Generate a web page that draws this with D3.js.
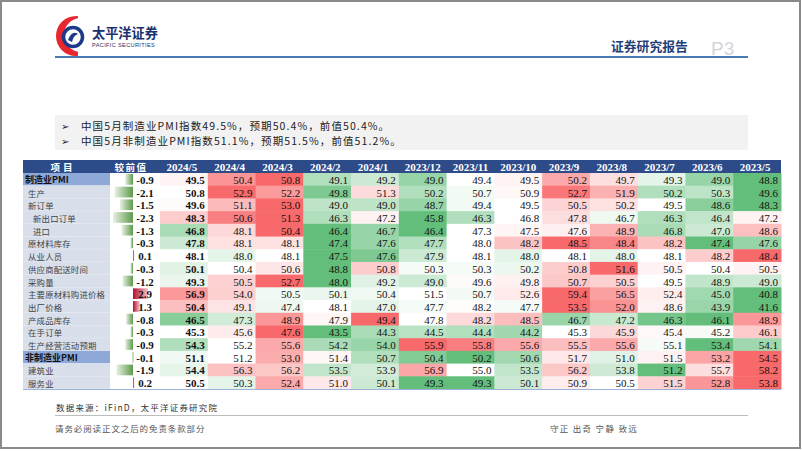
<!DOCTYPE html>
<html><head><meta charset="utf-8">
<script src="https://cdn.jsdelivr.net/npm/d3@7"></script>
<style>
html,body{margin:0;padding:0;background:#fff;}
svg{display:block;}
</style></head>
<body>
<svg id="c" width="802" height="451"></svg>
<script>
const months = ["2024/5","2024/4","2024/3","2024/2","2024/1","2023/12","2023/11","2023/10","2023/9","2023/8","2023/7","2023/6","2023/5"];
const items = ["制造业PMI","生产","新订单","新出口订单","进口","原材料库存","从业人员","供应商配送时间","采购量","主要原材料购进价格","出厂价格","产成品库存","在手订单","生产经营活动预期","非制造业PMI","建筑业","服务业"];
const levels = [0,1,1,2,2,1,1,1,1,1,1,1,1,1,0,1,1];
const diffs = [-0.9,-2.1,-1.5,-2.3,-1.3,-0.3,0.1,-0.3,-1.2,2.9,1.3,-0.8,-0.3,-0.9,-0.1,-1.9,0.2];
const values = [
 [49.5,50.4,50.8,49.1,49.2,49.0,49.4,49.5,50.2,49.7,49.3,49.0,48.8],
 [50.8,52.9,52.2,49.8,51.3,50.2,50.7,50.9,52.7,51.9,50.2,50.3,49.6],
 [49.6,51.1,53.0,49.0,49.0,48.7,49.4,49.5,50.5,50.2,49.5,48.6,48.3],
 [48.3,50.6,51.3,46.3,47.2,45.8,46.3,46.8,47.8,46.7,46.3,46.4,47.2],
 [46.8,48.1,50.4,46.4,46.7,46.4,47.3,47.5,47.6,48.9,46.8,47.0,48.6],
 [47.8,48.1,48.1,47.4,47.6,47.7,48.0,48.2,48.5,48.4,48.2,47.4,47.6],
 [48.1,48.0,48.1,47.5,47.6,47.9,48.1,48.0,48.1,48.0,48.1,48.2,48.4],
 [50.1,50.4,50.6,48.8,50.8,50.3,50.3,50.2,50.8,51.6,50.5,50.4,50.5],
 [49.3,50.5,52.7,48.0,49.2,49.0,49.6,49.8,50.7,50.5,49.5,48.9,49.0],
 [56.9,54.0,50.5,50.1,50.4,51.5,50.7,52.6,59.4,56.5,52.4,45.0,40.8],
 [50.4,49.1,47.4,48.1,47.0,47.7,48.2,47.7,53.5,52.0,48.6,43.9,41.6],
 [46.5,47.3,48.9,47.9,49.4,47.8,48.2,48.5,46.7,47.2,46.3,46.1,48.9],
 [45.3,45.6,47.6,43.5,44.3,44.5,44.4,44.2,45.3,45.9,45.4,45.2,46.1],
 [54.3,55.2,55.6,54.2,54.0,55.9,55.8,55.6,55.5,55.6,55.1,53.4,54.1],
 [51.1,51.2,53.0,51.4,50.7,50.4,50.2,50.6,51.7,51.0,51.5,53.2,54.5],
 [54.4,56.3,56.2,53.5,53.9,56.9,55.0,53.5,56.2,53.8,51.2,55.7,58.2],
 [50.5,50.3,52.4,51.0,50.1,49.3,49.3,50.1,50.9,50.5,51.5,52.8,53.8]
];
const headerLabels = ["项目","较前值"];
const bullets = ["中国5月制造业PMI指数49.5%，预期50.4%，前值50.4%。","中国5月非制造业PMI指数51.1%，预期51.5%，前值51.2%。"];

const svg = d3.select("#c");
const CJK = "'Noto Sans CJK SC','Noto Sans',sans-serif";
const SERIF = "'Liberation Serif','Times New Roman',serif";

// frame
svg.append("rect").attr("x",1).attr("y",1).attr("width",799).attr("height",447)
  .attr("fill","#fff").attr("stroke","#8a8a8a").attr("stroke-width",2);

// logo
const lg = svg.append("g");
lg.append("path").attr("fill-rule","evenodd").attr("fill","#E8262D")
  .attr("d", (()=>{const p=d3.path(); p.arc(76,36,20,0,Math.PI*2); p.moveTo(97,36); p.arc(81,35,17,0,Math.PI*2); return p.toString();})());
lg.append("rect").attr("x",78).attr("y",14).attr("width",20).attr("height",44).attr("fill","#fff");
lg.append("circle").attr("cx",73).attr("cy",37).attr("r",9.5).attr("fill","none").attr("stroke","#1B3A8A").attr("stroke-width",3.5);
lg.append("path").attr("d","M68,40 Q72,30 78,34 Q73,36 72,42 Z").attr("fill","#1B3A8A");
lg.append("text").attr("x",92).attr("y",38).text("太平洋证券")
  .attr("font-family",CJK).attr("font-weight","bold").attr("font-size",13.2).attr("fill","#1A2F6E");
lg.append("text").attr("x",92).attr("y",47).text("PACIFIC SECURITIES")
  .attr("font-family","'Liberation Sans',Arial,sans-serif").attr("font-size",5.6).attr("letter-spacing",0.35).attr("fill","#1A2F6E");

svg.append("text").attr("x",611).attr("y",51).text("证券研究报告")
  .attr("font-family",CJK).attr("font-weight","bold").attr("font-size",12.8).attr("fill","#1F3F7A");
svg.append("text").attr("x",711).attr("y",55).text("P3")
  .attr("font-family","'Liberation Sans',Arial,sans-serif").attr("font-size",19).attr("fill","#D3D5DD");
svg.append("rect").attr("x",55).attr("y",56).attr("width",693).attr("height",2).attr("fill","#4A79B8");

// bullet box
svg.append("rect").attr("x",55).attr("y",115).attr("width",693).attr("height",35).attr("fill","#F2F2F2");
bullets.forEach((b,i)=>{
  const yy = 130 + i*14.5;
  svg.append("text").attr("x",61).attr("y",yy).text("➢").attr("font-family","'DejaVu Sans',sans-serif").attr("font-size",10).attr("fill","#222");
  svg.append("text").attr("x",81).attr("y",yy).text(b).attr("font-family",CJK).attr("font-size",10.5).attr("letter-spacing",1.1).attr("fill","#222");
});

// table
const xL = 23, xLabR = 110, xAxis = 133, xNumR = 160, xRight = 781;
const yTop = 160, yHead = 173, yBot = 389;
const x = d3.scaleBand().domain(months).range([xNumR, xRight]);
const y = d3.scaleBand().domain(items).range([yHead, yBot]);

svg.append("rect").attr("x",xL).attr("y",yTop).attr("width",xRight-xL).attr("height",yHead-yTop).attr("fill","#2D4B89");
svg.append("text").attr("x",63).attr("y",(yTop+yHead)/2+0.5).text(headerLabels[0])
  .attr("text-anchor","middle").attr("dominant-baseline","central").attr("font-family",CJK).attr("font-weight","bold").attr("font-size",9.5).attr("letter-spacing",3).attr("fill","#fff");
svg.append("text").attr("x",131).attr("y",(yTop+yHead)/2+0.5).text(headerLabels[1])
  .attr("text-anchor","middle").attr("dominant-baseline","central").attr("font-family",CJK).attr("font-weight","bold").attr("font-size",9.5).attr("letter-spacing",1.5).attr("fill","#fff");
svg.selectAll("text.hd").data(months).join("text").attr("class","hd")
  .attr("x",d=>x(d)+x.bandwidth()/2 - (d.length>6?0:2)).attr("y",(yTop+yHead)/2+0.5)
  .attr("text-anchor","middle").attr("dominant-baseline","central")
  .attr("font-family",SERIF).attr("font-weight","bold").attr("font-size",11).attr("fill","#fff").text(d=>d);

const rowsG = svg.append("g");
items.forEach((it,i)=>{
  const yy = y(it), h = y.bandwidth();
  const top = levels[i]===0;
  rowsG.append("rect").attr("x",xL).attr("y",yy).attr("width",xLabR-xL).attr("height",h)
    .attr("fill", top ? "#8EA8D8" : "#D8DEEA");
  rowsG.append("line").attr("x1",xL).attr("x2",xLabR).attr("y1",yy+h).attr("y2",yy+h).attr("stroke","#EEF1F6").attr("stroke-width",0.6);
  rowsG.append("text").attr("x", top?25:(levels[i]===1?28:33)).attr("y",yy+h/2+0.5).text(it)
    .attr("dominant-baseline","central").attr("font-family",CJK)
    .attr("font-weight", top?"bold":"normal").attr("font-size", top?9:8.4)
    .attr("letter-spacing", top?0:0.2)
    .attr("fill", top?"#111":"#444");
  rowsG.append("rect").attr("x",xLabR).attr("y",yy).attr("width",xNumR-xLabR).attr("height",h).attr("fill","#fff");
});

const defs = svg.append("defs");
const gN = defs.append("linearGradient").attr("id","gneg").attr("x1","0").attr("x2","1").attr("y1","0").attr("y2","0");
gN.append("stop").attr("offset","0%").attr("stop-color","#E6F1E2");
gN.append("stop").attr("offset","100%").attr("stop-color","#5E9A4C");
const gP = defs.append("linearGradient").attr("id","gpos").attr("x1","0").attr("x2","1").attr("y1","0").attr("y2","0");
gP.append("stop").attr("offset","0%").attr("stop-color","#B0102E");
gP.append("stop").attr("offset","100%").attr("stop-color","#F6C4CB");

const bx = d3.scaleLinear().domain([-2.3,0,2.9]).range([113,xAxis,148]);
svg.selectAll("rect.bar").data(diffs).join("rect").attr("class","bar")
  .attr("x",d=>Math.min(bx(d),bx(0))).attr("width",d=>Math.max(1.2,Math.abs(bx(d)-bx(0))))
  .attr("y",(d,i)=>y(items[i])+1).attr("height",y.bandwidth()-2)
  .attr("fill",d=>d<0?"url(#gneg)":"url(#gpos)");
svg.selectAll("text.diff").data(diffs).join("text").attr("class","diff")
  .attr("x",145).attr("y",(d,i)=>y(items[i])+y.bandwidth()/2+0.5)
  .attr("text-anchor","middle").attr("dominant-baseline","central")
  .attr("font-family",SERIF).attr("font-weight","bold").attr("font-size",11).attr("fill","#111")
  .text(d=>d.toFixed(1));

values.forEach((row,i)=>{
  const s = row.slice().sort(d3.ascending);
  const col = d3.scaleLinear().domain([s[0], d3.quantile(s,0.5), s[s.length-1]]).range(["#63BE7B","#FFFFFF","#F8696B"]);
  const g = svg.append("g");
  g.selectAll("rect").data(row).join("rect")
    .attr("x",(d,j)=>x(months[j])).attr("y",y(items[i]))
    .attr("width",x.bandwidth()+0.5).attr("height",y.bandwidth()+0.5)
    .attr("fill",d=>col(d));
  g.selectAll("text").data(row).join("text")
    .attr("x",(d,j)=>x(months[j])+x.bandwidth()-3).attr("y",y(items[i])+y.bandwidth()/2+0.5)
    .attr("text-anchor","end").attr("dominant-baseline","central")
    .attr("font-family",SERIF).attr("font-size",11)
    .attr("font-weight",(d,j)=>j===0?"bold":"normal").attr("fill","#111")
    .text(d=>d.toFixed(1));
});
svg.append("line").attr("x1",xL).attr("x2",xRight).attr("y1",yBot+0.5).attr("y2",yBot+0.5).attr("stroke","#9DB2DA").attr("stroke-width",1);

svg.append("text").attr("x",56).attr("y",411).text("数据来源：iFinD，太平洋证券研究院")
  .attr("font-family",CJK).attr("font-size",8.5).attr("letter-spacing",1.2).attr("fill","#333");
svg.append("rect").attr("x",55).attr("y",415).attr("width",693).attr("height",1).attr("fill","#BDBDBD");
svg.append("text").attr("x",55).attr("y",432).text("请务必阅读正文之后的免责条款部分")
  .attr("font-family",CJK).attr("font-size",8.5).attr("letter-spacing",0.9).attr("fill","#555");
svg.append("text").attr("x",550).attr("y",432).text("守正 出奇 宁静 致远")
  .attr("font-family",CJK).attr("font-size",8.5).attr("letter-spacing",1.3).attr("fill","#555");
</script>
</body></html>
